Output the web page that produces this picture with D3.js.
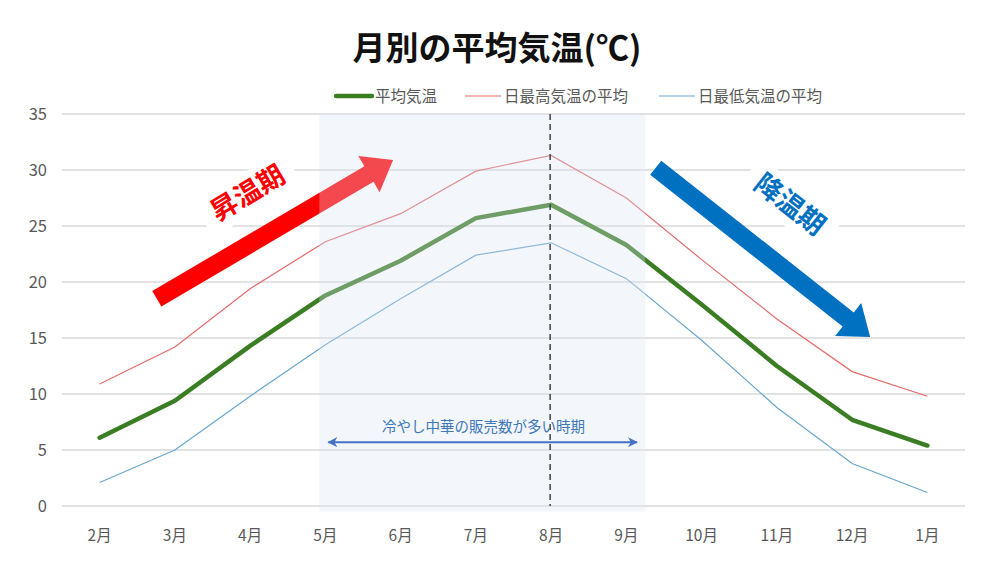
<!DOCTYPE html>
<html>
<head>
<meta charset="utf-8">
<script src="https://cdn.jsdelivr.net/npm/d3@7"></script>
<style>
  body { margin: 0; background: #fff; }
  svg { display: block; font-family: "Noto Sans CJK JP", "Noto Sans", sans-serif; }
</style>
</head>
<body>
<div id="chart"></div>
<script>
// data
const months = ["2月","3月","4月","5月","6月","7月","8月","9月","10月","11月","12月","1月"];
const avgTemp = [6.1, 9.4, 14.3, 18.8, 21.9, 25.7, 26.9, 23.3, 18.0, 12.5, 7.7, 5.4];
const maxTemp = [10.9, 14.2, 19.4, 23.6, 26.1, 29.9, 31.3, 27.5, 22.0, 16.7, 12.0, 9.8];
const minTemp = [2.1, 5.0, 9.8, 14.4, 18.5, 22.4, 23.5, 20.3, 14.8, 8.8, 3.8, 1.2];
const yTicks = [0, 5, 10, 15, 20, 25, 30, 35];
const seriesNames = ["平均気温", "日最高気温の平均", "日最低気温の平均"];

const W = 1000, H = 563;
const margin = {top: 114, right: 35, bottom: 57, left: 62};

const svg = d3.select("#chart").append("svg")
  .attr("width", W)
  .attr("height", H);

const x = d3.scaleBand()
  .domain(months)
  .range([margin.left, W - margin.right]);
const bw = x.bandwidth();
// month index -> pixel (for annotations between months)
const xi = d3.scaleLinear()
  .domain([0, months.length - 1])
  .range([x(months[0]) + bw / 2, x(months[months.length - 1]) + bw / 2]);
const y = d3.scaleLinear()
  .domain([0, 35])
  .range([H - margin.bottom, margin.top]);

/** title */
svg.append("text")
  .attr("x", 497)
  .attr("y", 60)
  .attr("text-anchor", "middle")
  .style("font-size", "33px")
  .style("font-weight", "bold")
  .style("fill", "#111")
  .text("月別の平均気温(℃)");

/** legend */
const legend = [
  {name: seriesNames[0], color: "#3b7d23", w: 4.5, x: 336},
  {name: seriesNames[1], color: "#e56b6b", w: 1.2, x: 465},
  {name: seriesNames[2], color: "#6aa6d0", w: 1.2, x: 659}
];
legend.forEach(l => {
  svg.append("line")
    .attr("x1", l.x).attr("x2", l.x + 36)
    .attr("y1", 96).attr("y2", 96)
    .attr("stroke", l.color)
    .attr("stroke-width", l.w)
    .attr("stroke-linecap", l.w > 2 ? "round" : "butt");
  svg.append("text")
    .attr("x", l.x + 39)
    .attr("y", 101.5)
    .style("font-size", "15.5px")
    .style("fill", "#595959")
    .text(l.name);
});

/** grid lines + y axis labels */
const grid = svg.append("g");
grid.selectAll("line")
  .data(yTicks)
  .enter()
  .append("line")
  .attr("x1", margin.left)
  .attr("x2", W - margin.right)
  .attr("y1", d => y(d))
  .attr("y2", d => y(d))
  .attr("stroke", "#d9d9d9")
  .attr("stroke-width", 1.5);

svg.append("g").selectAll("text")
  .data(yTicks)
  .enter()
  .append("text")
  .attr("x", 47)
  .attr("y", d => y(d) + 6)
  .attr("text-anchor", "end")
  .style("font-size", "16.5px")
  .style("fill", "#595959")
  .text(d => d);

/** x axis labels */
svg.append("g").selectAll("text")
  .data(months)
  .enter()
  .append("text")
  .attr("x", d => x(d) + bw / 2)
  .attr("y", 541)
  .attr("text-anchor", "middle")
  .style("font-size", "15.5px")
  .style("fill", "#595959")
  .text(d => d);

/** rotated labels with a white box (they cut the grid lines) */
function label(txt, idx, val, angle, color) {
  const g = svg.append("g")
    .attr("transform", "translate(" + xi(idx) + "," + y(val) + ") rotate(" + angle + ")");
  g.append("rect")
    .attr("x", -52).attr("y", -20)
    .attr("width", 104).attr("height", 40)
    .attr("fill", "#fff");
  g.append("text")
    .attr("y", 9)
    .attr("text-anchor", "middle")
    .style("font-size", "27px")
    .style("font-weight", "bold")
    .style("fill", color)
    .text(txt);
}
label("昇温期", 1.97, 27.9, -31, "#ff0000");
label("降温期", 9.17, 26.9, 38, "#0070c0");

/** lines */
const line = d3.line()
  .x((d, i) => x(months[i]) + bw / 2)
  .y(d => y(d));

svg.append("path")
  .datum(maxTemp)
  .attr("d", line)
  .attr("fill", "none")
  .attr("stroke", "#e56b6b")
  .attr("stroke-width", 1.2);
svg.append("path")
  .datum(minTemp)
  .attr("d", line)
  .attr("fill", "none")
  .attr("stroke", "#6aa6d0")
  .attr("stroke-width", 1.2);
svg.append("path")
  .datum(avgTemp)
  .attr("d", line)
  .attr("fill", "none")
  .attr("stroke", "#3b7d23")
  .attr("stroke-width", 4.5)
  .attr("stroke-linecap", "round")
  .attr("stroke-linejoin", "round");

/** big block arrows */
function blockArrow(from, to, color) {
  const x0 = xi(from[0]), y0 = y(from[1]);
  const x1 = xi(to[0]), y1 = y(to[1]);
  const len = Math.hypot(x1 - x0, y1 - y0);
  const ang = Math.atan2(y1 - y0, x1 - x0) * 180 / Math.PI;
  const sw = 9, hw = 21, hl = 28;
  const pts = [[0, -sw], [len - hl, -sw], [len - hl, -hw], [len, 0],
               [len - hl, hw], [len - hl, sw], [0, sw]];
  svg.append("polygon")
    .attr("points", pts.map(p => p.join(",")).join(" "))
    .attr("fill", color)
    .attr("transform", "translate(" + x0 + "," + y0 + ") rotate(" + ang + ")");
}
blockArrow([0.76, 18.5], [3.9, 30.9], "#ff0000");
blockArrow([7.39, 30.2], [10.24, 15.1], "#0070c0");

/** shaded period (semi transparent, on top) */
svg.append("rect")
  .attr("x", xi(2.92))
  .attr("y", y(35))
  .attr("width", xi(7.25) - xi(2.92))
  .attr("height", y(-0.5) - y(35))
  .attr("fill", "#dae3f3")
  .attr("opacity", 0.32);

/** dashed line at 8月 */
svg.append("line")
  .attr("x1", x("8月") + bw / 2 - 1)
  .attr("x2", x("8月") + bw / 2 - 1)
  .attr("y1", y(35))
  .attr("y2", y(0))
  .attr("stroke", "#404040")
  .attr("stroke-width", 1.5)
  .attr("stroke-dasharray", "6,4");

/** double arrow + text */
const defs = svg.append("defs");
defs.append("marker")
  .attr("id", "ah")
  .attr("viewBox", "0 0 10 10")
  .attr("refX", 9).attr("refY", 5)
  .attr("markerWidth", 5).attr("markerHeight", 5)
  .attr("orient", "auto-start-reverse")
  .append("path")
  .attr("d", "M0,0 L10,5 L0,10 L3,5 Z")
  .attr("fill", "#4472c4");

svg.append("line")
  .attr("x1", xi(3.04)).attr("x2", xi(7.14))
  .attr("y1", y(5.7)).attr("y2", y(5.7))
  .attr("stroke", "#4472c4")
  .attr("stroke-width", 2)
  .attr("marker-start", "url(#ah)")
  .attr("marker-end", "url(#ah)");

svg.append("text")
  .attr("x", xi(5.1))
  .attr("y", y(7.05) + 5)
  .attr("text-anchor", "middle")
  .style("font-size", "14.5px")
  .style("fill", "#3f78b8")
  .text("冷やし中華の販売数が多い時期");
</script>
</body>
</html>
